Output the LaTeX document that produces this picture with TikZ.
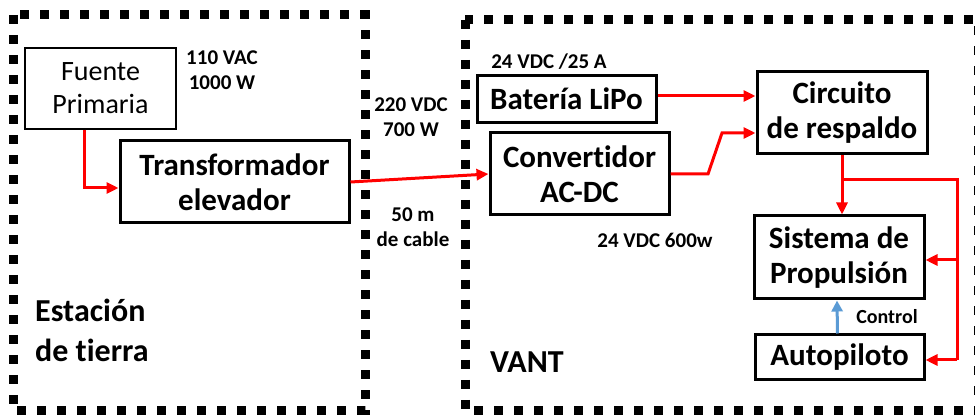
\documentclass[tikz,border=0pt]{standalone}
\usepackage{fontspec}
\setmainfont{Carlito}[Ligatures=NoCommon]
\usetikzlibrary{arrows.meta}
\definecolor{ctrlblue}{RGB}{91,155,213}
\tikzset{
  blk/.style={draw,line width=3pt,align=center,font=\bfseries\fontsize{31}{35}\selectfont,inner sep=0pt},
  lbl/.style={align=center,font=\bfseries\fontsize{21}{25}\selectfont,inner sep=0pt},
  pow/.style={red,line width=3pt,-{Triangle[length=12pt,width=11pt]}},
  zone/.style={line width=9pt,dash pattern=on 9pt off 11pt}
}
\begin{document}
\begin{tikzpicture}[x=1pt,y=-1pt]
  \useasboundingbox (0,0) rectangle (975,419);
  \clip (0,0) rectangle (975,419);
  % the two zones
  \draw[zone] (13,15) rectangle (365,411);
  \draw[zone] (465,20) rectangle (978,411);
  % ground station
  \node[draw,line width=1.5pt,minimum width=151pt,minimum height=81pt,align=center,
        font=\fontsize{28}{33}\selectfont,inner sep=0pt] (fuente) at (100.5,88.5) {Fuente\\Primaria};
  \node[blk,minimum width=229pt,minimum height=82pt] (trafo) at (234.5,182) {Transformador\\elevador};
  % aircraft
  \node[blk,minimum width=179pt,minimum height=47pt] (bateria) at (566.5,99) {Bater\'ia LiPo};
  \node[blk,minimum width=179pt,minimum height=82pt] (conv) at (579.5,174) {Convertidor\\AC-DC};
  \node[blk,minimum width=170pt,minimum height=82pt] (circ) at (842,113) {Circuito\\de respaldo};
  \node[blk,minimum width=170pt,minimum height=83pt] (prop) at (839,257.5) {Sistema de\\Propulsi\'on};
  \node[blk,minimum width=169pt,minimum height=45pt] (auto) at (839.5,357.5) {Autopiloto};
  % labels
  \node[lbl] (l110) at (222,70) {110 VAC\\1000 W};
  \node[lbl] (l220) at (411,117) {220 VDC\\700 W};
  \node[lbl] (lcable) at (413,227) {50 m\\de cable};
  \node[lbl] (lbat) at (549,62) {24 VDC /25 A};
  \node[lbl] (lconv) at (655,240) {24 VDC 600w};
  \node[lbl,font=\bfseries\fontsize{20}{24}\selectfont] (lctrl) at (887,317) {Control};
  \node[align=left,anchor=west,font=\bfseries\fontsize{32}{40}\selectfont,inner sep=0pt] (lest) at (35,330) {Estaci\'on\\de tierra};
  \node[font=\bfseries\fontsize{32}{38}\selectfont,inner sep=0pt] (lvant) at (527,362) {VANT};
  % bend points
  \coordinate (f1) at (84,188);
  \coordinate (c1) at (708,174);
  \coordinate (c2) at (722,133);
  \coordinate (j1) at (842,180);
  \coordinate (j2) at (957,180);
  \coordinate (j3) at (957,260);
  \coordinate (j4) at (957,360);
  % power lines
  \draw[pow] (fuente.south -| f1) |- (f1 -| trafo.west);
  \draw[pow] (trafo.east) -- (conv.west);
  \draw[pow] ([yshift=3pt]bateria.east) -- ([yshift=3pt]bateria.east -| circ.west);
  \draw[pow] (conv.east |- c1) -- (c1) -- (c2) -- (c2 -| circ.west);
  \draw[pow] (circ.south) -- (circ.south |- prop.north);
  \draw[red,line width=3pt] (j1) -- (j2) -- (j4);
  \draw[pow] (j3) -- (j3 -| prop.east);
  \draw[pow] (j4) -- (j4 -| auto.east);
  % control
  \draw[ctrlblue,line width=3pt,-{Triangle[length=11pt,width=11pt]}] ([xshift=-2pt]auto.north) -- ([xshift=-2pt]prop.south);
\end{tikzpicture}
\end{document}
